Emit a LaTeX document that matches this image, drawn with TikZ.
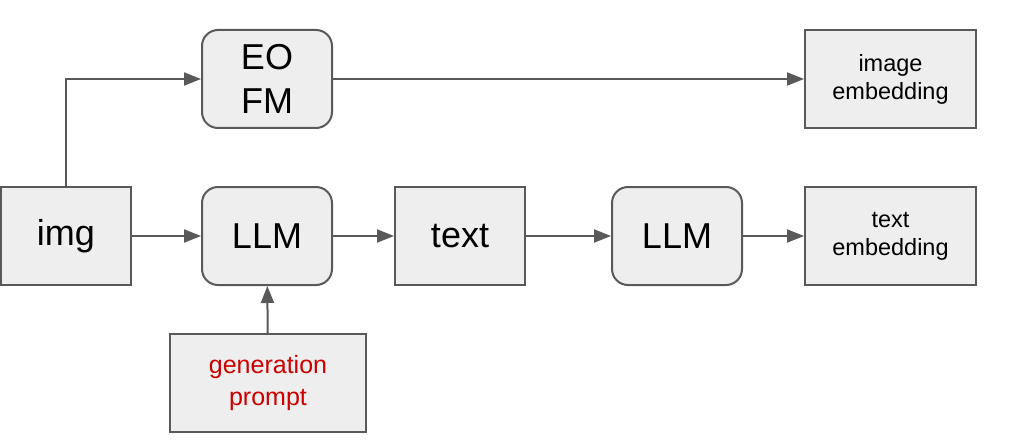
\documentclass[tikz,border=0pt]{standalone}
\usepackage{fontspec}
\setmainfont{Liberation Sans}
\usetikzlibrary{arrows.meta, positioning}
\definecolor{edgegray}{HTML}{595959}
\definecolor{boxfill}{HTML}{EEEEEE}
\definecolor{promptred}{HTML}{CC0000}

\begin{document}
\begin{tikzpicture}[x=1pt, y=-1pt,
  box/.style={draw=edgegray, fill=boxfill, line width=2pt, inner sep=0pt, align=center, minimum height=98pt},
  modelbox/.style={box, rounded corners=16pt, minimum width=130pt, font=\fontsize{36}{44}\selectfont},
  databox/.style={box, minimum width=130pt, font=\fontsize{36}{44}\selectfont},
  embbox/.style={box, minimum width=171pt, font=\fontsize{23.5}{28}\selectfont},
  link/.style={draw=edgegray, line width=2pt, -{Triangle[length=17pt,width=13pt]}}]
\useasboundingbox (0,0) rectangle (1012,441);

\node[databox] (img) at (66,236) {img};
\node[modelbox] (eofm) at (267,79) {EO\\FM};
\node[modelbox] (llmA) at (267,236) {LLM};
\node[databox] (txt) at (460,236) {text};
\node[modelbox] (llmB) at (677,236) {LLM};
\node[embbox] (imgemb) at (890.5,79) {image\\embedding};
\node[embbox] (txtemb) at (890.5,236) {text\\embedding};
\node[box, minimum width=196pt, text=promptred, font=\fontsize{25}{32}\selectfont] (prompt) at (268,383) {generation\\prompt};

\draw[link] (img.north) |- (eofm.west);
\draw[link] (eofm) -- (imgemb);
\draw[link] (img) -- (llmA);
\draw[link] (llmA) -- (txt);
\draw[link] (txt) -- (llmB);
\draw[link] (llmB) -- (txtemb);
\draw[link] (prompt) -- (llmA);
\end{tikzpicture}
\end{document}
